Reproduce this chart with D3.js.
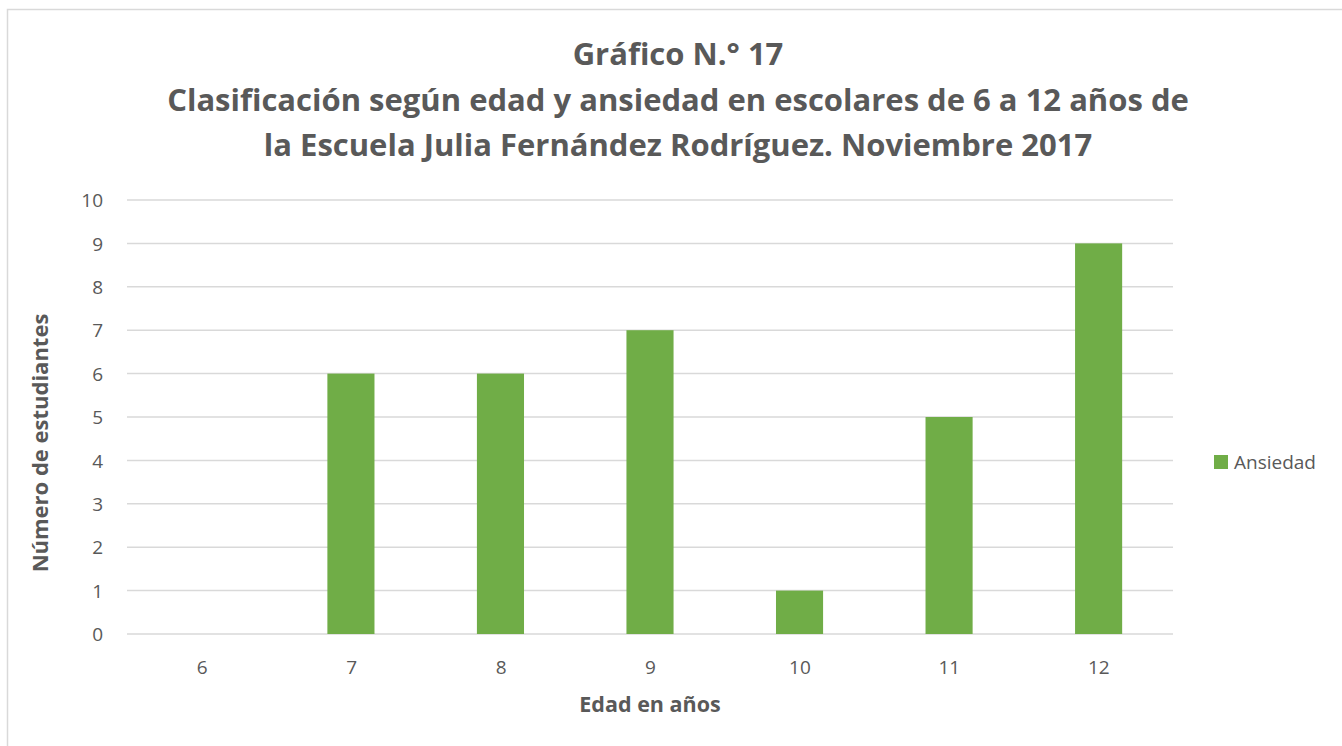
<!DOCTYPE html>
<html>
<head>
<meta charset="utf-8">
<script src="https://cdn.jsdelivr.net/npm/d3@7"></script>
<style>
  body { margin: 0; background: #fff; }
  text { font-family: "Open Sans", Lato, sans-serif; fill: #595959; }
</style>
</head>
<body>
<div id="chart"></div>
<script>
// Data
const ages = ["6", "7", "8", "9", "10", "11", "12"];
const ansiedad = [0, 6, 6, 7, 1, 5, 9];
const yTicks = [0, 1, 2, 3, 4, 5, 6, 7, 8, 9, 10];
const titleLines = [
    "Gráfico N.° 17",
    "Clasificación según edad y ansiedad en escolares de 6 a 12 años de",
    "la Escuela Julia Fernández Rodríguez. Noviembre 2017"
];
const seriesName = "Ansiedad";

const W = 1342, H = 746;
const plot = { left: 127, right: 1173, top: 200, bottom: 634 };

const svg = d3.select("#chart")
    .append("svg")
    .attr("width", W)
    .attr("height", H);

// Chart border
svg.append("rect")
    .attr("x", 7.5)
    .attr("y", 9.5)
    .attr("width", W)
    .attr("height", H)
    .attr("fill", "#fff")
    .attr("stroke", "#d9d9d9")
    .attr("stroke-width", 1.5);

// Title
svg.selectAll(".title")
    .data(titleLines)
    .enter()
    .append("text")
    .attr("class", "title")
    .attr("x", 678)
    .attr("y", (d, i) => 65 + i * 45.5)
    .attr("text-anchor", "middle")
    .style("font-size", "31px")
    .style("font-weight", "bold")
    .text(d => d);

// Scales
const x = d3.scaleBand()
    .domain(ages)
    .range([plot.left, plot.right])
    .paddingInner(0.685)
    .paddingOuter(0.34);

const y = d3.scaleLinear()
    .domain([0, 10])
    .range([plot.bottom, plot.top]);

// Gridlines
svg.append("g")
    .selectAll("line")
    .data(yTicks)
    .enter()
    .append("line")
    .attr("x1", plot.left)
    .attr("x2", plot.right)
    .attr("y1", d => y(d))
    .attr("y2", d => y(d))
    .style("stroke", "#d9d9d9")
    .style("stroke-width", "1.5px");

// Y axis
const yAxis = svg.append("g")
    .attr("transform", `translate(${plot.left - 21},0)`)
    .call(d3.axisLeft(y).tickValues(yTicks).tickSize(0).tickFormat(d3.format("d")));
yAxis.select(".domain").remove();
yAxis.selectAll("text")
    .style("font-size", "19px")
    .attr("dy", "0.35em");

// X axis
const xAxis = svg.append("g")
    .attr("transform", `translate(0,${plot.bottom})`)
    .call(d3.axisBottom(d3.scalePoint().domain(ages).range([plot.left, plot.right]).padding(0.5)).tickSize(0));
xAxis.select(".domain").remove();
xAxis.selectAll("text")
    .style("font-size", "19px")
    .attr("y", 33)
    .attr("dy", "0.35em");

// Bars
svg.selectAll(".bar")
    .data(ansiedad)
    .enter()
    .append("rect")
    .attr("class", "bar")
    .attr("x", (d, i) => x(ages[i]))
    .attr("y", d => y(d))
    .attr("width", x.bandwidth())
    .attr("height", d => y(0) - y(d))
    .style("fill", "#70ad47");

// Axis titles
svg.append("text")
    .attr("x", 650)
    .attr("y", 712)
    .attr("text-anchor", "middle")
    .style("font-size", "21.5px")
    .style("font-weight", "bold")
    .text("Edad en años");

svg.append("text")
    .attr("transform", "translate(48,443) rotate(-90)")
    .attr("text-anchor", "middle")
    .style("font-size", "22px")
    .style("font-weight", "bold")
    .text("Número de estudiantes");

// Legend
const legend = svg.append("g").attr("transform", "translate(1214,455)");
legend.append("rect")
    .attr("width", 14)
    .attr("height", 14)
    .style("fill", "#70ad47");
legend.append("text")
    .attr("x", 20)
    .attr("y", 7)
    .attr("dy", "0.35em")
    .style("font-size", "19px")
    .text(seriesName);
</script>
</body>
</html>
